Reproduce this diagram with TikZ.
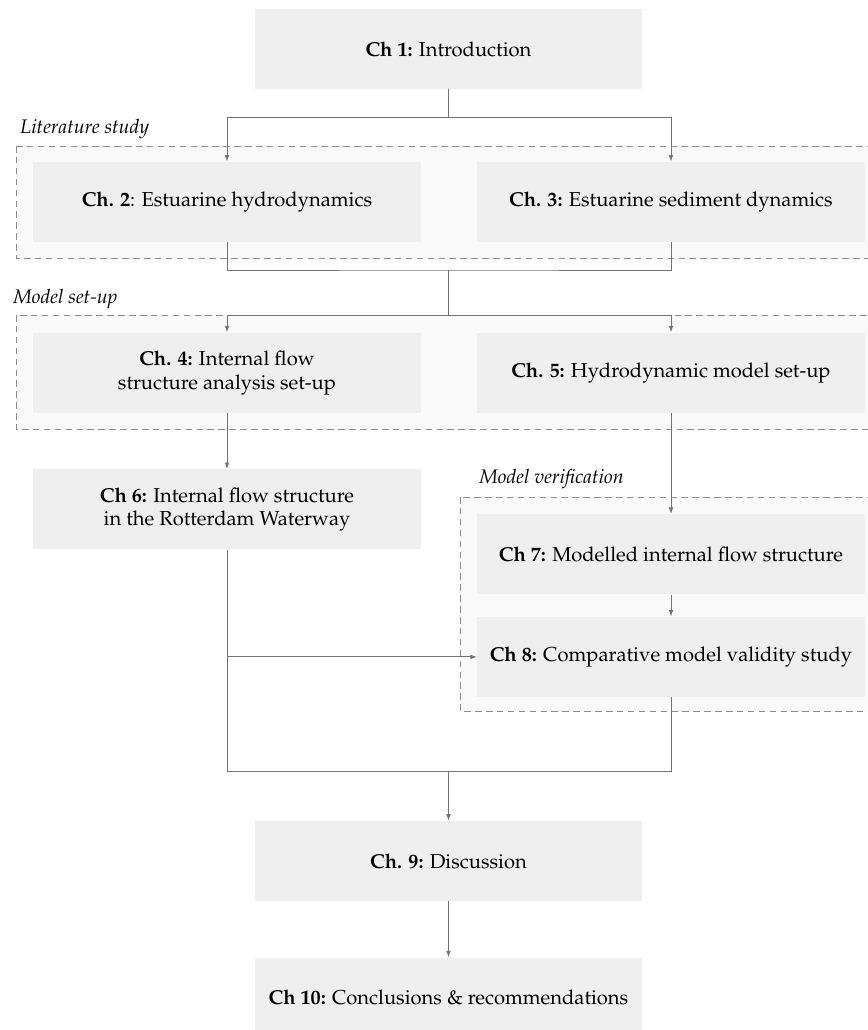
\documentclass[tikz,border=0pt]{standalone}
\usepackage[T1]{fontenc}
\usepackage{mathpazo}
\usepackage{xcolor}
\usepackage{tikz}
\usetikzlibrary{arrows.meta,positioning,backgrounds}
\definecolor{chapgrey}{HTML}{EFEFEF}
\definecolor{groupgrey}{HTML}{FAFAFA}
\definecolor{linegrey}{HTML}{737373}
\definecolor{dashgrey}{HTML}{8C8C8C}
\tikzset{
  chapbox/.style={
    rectangle, fill=chapgrey, draw=none, inner sep=0pt,
    minimum width=213pt, minimum height=44pt, align=center,
    font=\fontsize{11.1}{13.1}\selectfont
  },
  flowarrow/.style={-{Latex[length=3.6pt,width=2.6pt]}, draw=linegrey, line width=0.5pt},
  flowline/.style={draw=linegrey, line width=0.5pt},
  groupbox/.style={fill=groupgrey, draw=dashgrey, line width=0.5pt, dash pattern=on 3.6pt off 2.4pt},
  grouplabel/.style={anchor=base west, inner sep=0pt, font=\fontsize{10.8}{13}\selectfont\itshape}
}

\begin{document}
\begin{tikzpicture}[x=0.55pt, y=-0.55pt, node distance=49.5pt and 30.8pt]
\useasboundingbox (0,0) rectangle (868,1030);
% groups behind the chapters
\draw[groupbox] (16,146) rectangle (900,258);
\draw[groupbox] (16,315) rectangle (900,429);
\draw[groupbox] (460,497) rectangle (900,711);
\node[grouplabel] (litlabel) at (20,133) {Literature study};
\node[grouplabel] (setuplabel) at (13,303) {Model set-up};
\node[grouplabel] (veriflabel) at (479,483) {Model verification};

\node[chapbox] (ch1) at (448.5,49) {\textbf{Ch 1:} Introduction};
\node[chapbox] (ch2) at (227,202) {\textbf{Ch. 2}: Estuarine hydrodynamics};
\node[chapbox, right=of ch2] (ch3) {\textbf{Ch. 3:} Estuarine sediment dynamics};
\node[chapbox, below=of ch2] (ch4) {\textbf{Ch. 4:} Internal flow\\structure analysis set-up};
\node[chapbox, right=of ch4] (ch5) {\textbf{Ch. 5:} Hydrodynamic model set-up};
\node[chapbox, below=30.8pt of ch4] (ch6) {\textbf{Ch 6:} Internal flow structure\\in the Rotterdam Waterway};
\node[chapbox, below=55.5pt of ch5] (ch7) {\textbf{Ch 7:} Modelled internal flow structure};
\node[chapbox, below=12pt of ch7] (ch8) {\textbf{Ch 8:} Comparative model validity study};
\node[chapbox] (ch9) at (448.5,861) {\textbf{Ch. 9:} Discussion};
\node[chapbox, below=30.8pt of ch9] (ch10) {\textbf{Ch 10:} Conclusions \& recommendations};

\coordinate (split1) at (448.5,117);
\coordinate (merge1) at (448.5,270);
\coordinate (split2) at (448.5,315);
\coordinate (tap6) at (ch6 |- ch8);
\coordinate (merge2) at (448.5,771);

\draw[flowline] (ch1) -- (split1);
\draw[flowarrow] (split1) -| (ch2);
\draw[flowarrow] (split1) -| (ch3);
\draw[flowline] (ch2.south) |- (merge1) -| (ch3.south);
\draw[flowline] (merge1) -- (split2);
\draw[flowarrow] (split2) -| (ch4);
\draw[flowarrow] (split2) -| (ch5);
\draw[flowarrow] (ch4) -- (ch6);
\draw[flowarrow] (ch5) -- (ch7);
\draw[flowarrow] (ch7) -- (ch8);
\draw[flowarrow] (tap6) -- (ch8);
\draw[flowline] (ch6.south) |- (merge2) -| (ch8.south);
\draw[flowarrow] (merge2) -- (ch9);
\draw[flowarrow] (ch9) -- (ch10);
\end{tikzpicture}
\end{document}
